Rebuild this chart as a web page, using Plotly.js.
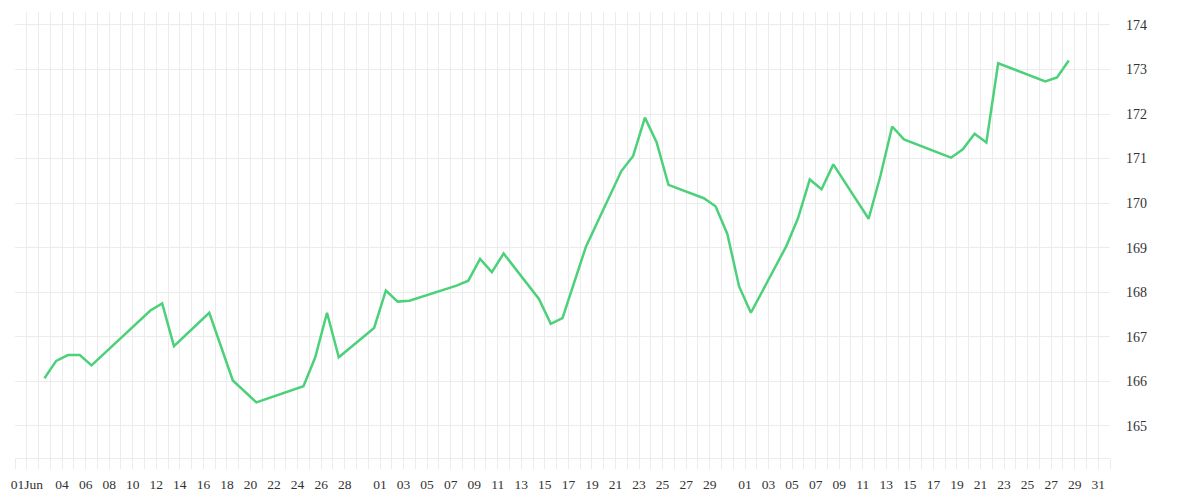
<!DOCTYPE html>
<html>
<head>
<meta charset="utf-8">
<script src="https://cdn.plot.ly/plotly-3.0.1.min.js"></script>
<style>html,body{margin:0;padding:0;background:#fff;}#chart{width:1200px;height:500px;}</style>
</head>
<body>
<div id="chart"></div>
<script>
// Observation dates (points sit at mid-day)
const dates = [
  '2023-06-02','2023-06-03','2023-06-04','2023-06-05','2023-06-06','2023-06-11','2023-06-12','2023-06-13',
  '2023-06-16','2023-06-18','2023-06-20','2023-06-24','2023-06-25','2023-06-26','2023-06-27','2023-06-30',
  '2023-07-01','2023-07-02','2023-07-03','2023-07-07','2023-07-08','2023-07-09','2023-07-10','2023-07-11',
  '2023-07-14','2023-07-15','2023-07-16','2023-07-18','2023-07-21','2023-07-22','2023-07-23','2023-07-24',
  '2023-07-25','2023-07-28','2023-07-29','2023-07-30','2023-07-31',
  '2023-08-01','2023-08-04','2023-08-05','2023-08-06','2023-08-07','2023-08-08','2023-08-11','2023-08-12',
  '2023-08-13','2023-08-14','2023-08-18','2023-08-19','2023-08-20','2023-08-21','2023-08-22','2023-08-26',
  '2023-08-27','2023-08-28'
];
const values = [
  166.07,166.46,166.59,166.59,166.36,167.59,167.75,166.79,
  167.54,166.02,165.53,165.89,166.54,167.54,166.54,167.20,
  168.04,167.79,167.81,168.15,168.26,168.75,168.45,168.87,
  167.85,167.29,167.42,169.03,170.72,171.06,171.92,171.36,
  170.41,170.11,169.93,169.31,168.13,
  167.54,169.03,169.66,170.53,170.31,170.87,169.65,170.61,
  171.72,171.43,171.02,171.21,171.56,171.36,173.14,172.73,
  172.82,173.20
];
const tickDates = [
  '2023-06-01','2023-06-04','2023-06-06','2023-06-08','2023-06-10','2023-06-12','2023-06-14','2023-06-16',
  '2023-06-18','2023-06-20','2023-06-22','2023-06-24','2023-06-26','2023-06-28',
  '2023-07-01','2023-07-03','2023-07-05','2023-07-07','2023-07-09','2023-07-11','2023-07-13','2023-07-15',
  '2023-07-17','2023-07-19','2023-07-21','2023-07-23','2023-07-25','2023-07-27','2023-07-29',
  '2023-08-01','2023-08-03','2023-08-05','2023-08-07','2023-08-09','2023-08-11','2023-08-13','2023-08-15',
  '2023-08-17','2023-08-19','2023-08-21','2023-08-23','2023-08-25','2023-08-27','2023-08-29','2023-08-31'
];
const tickLabels = [
  '01Jun','04','06','08','10','12','14','16','18','20','22','24','26','28',
  '01','03','05','07','09','11','13','15','17','19','21','23','25','27','29',
  '01','03','05','07','09','11','13','15','17','19','21','23','25','27','29','31'
];
const yTicks = [165,166,167,168,169,170,171,172,173,174];

const gridCol = '#ececec';
const fontFam = '"Liberation Serif", "Times New Roman", serif';

const trace = {
  x: dates.map(d => d + ' 12:00'),
  y: values,
  type: 'scatter',
  mode: 'lines',
  line: {color: '#4cd17a', width: 2.5},
  hoverinfo: 'x+y'
};

const layout = {
  width: 1200, height: 500,
  margin: {l: 15, r: 90, t: 12, b: 42},
  paper_bgcolor: '#fff', plot_bgcolor: '#fff',
  showlegend: false,
  font: {family: fontFam, size: 13.5, color: '#333'},
  xaxis: {
    type: 'date',
    range: ['2023-05-31', '2023-09-01'],
    tickmode: 'array',
    tickvals: tickDates,
    ticktext: tickLabels,
    showgrid: true, gridcolor: gridCol, gridwidth: 1,
    ticks: 'outside', ticklen: 10, tickcolor: gridCol, tickwidth: 1,
    showline: true, linecolor: gridCol, linewidth: 1,
    zeroline: false,
    ticklabelstandoff: 4,
    minor: {dtick: 86400000, tick0: '2023-05-31', showgrid: true, gridcolor: gridCol, gridwidth: 1,
            ticks: 'outside', ticklen: 10, tickcolor: gridCol, tickwidth: 1},
    tickfont: {family: fontFam, size: 13.5, color: '#333'}
  },
  yaxis: {
    side: 'right',
    range: [164.28, 174.29],
    tickmode: 'array',
    tickvals: yTicks,
    ticktext: yTicks.map(String),
    showgrid: true, gridcolor: gridCol, gridwidth: 1,
    ticks: '', showline: false, zeroline: false,
    ticklabelstandoff: 15,
    tickfont: {family: fontFam, size: 14, color: '#333'}
  }
};

Plotly.newPlot('chart', [trace], layout, {displayModeBar: false, staticPlot: true});
</script>
</body>
</html>
